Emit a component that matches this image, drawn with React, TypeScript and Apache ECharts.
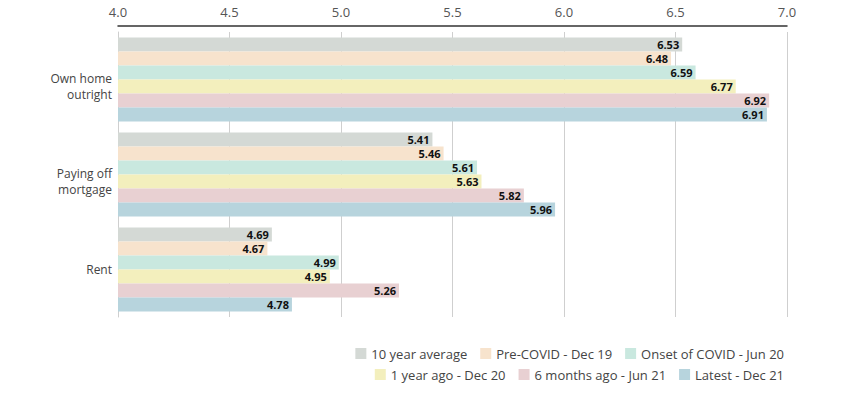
import React, { useEffect, useRef } from "react";
import * as echarts from "echarts";

const categories = ["Own home\noutright", "Paying off\nmortgage", "Rent"];
const seriesNames = [
  "10 year average",
  "Pre-COVID - Dec 19",
  "Onset of COVID - Jun 20",
  "1 year ago - Dec 20",
  "6 months ago - Jun 21",
  "Latest - Dec 21",
];
const tenYearAvg = [6.53, 5.41, 4.69];
const preCovid = [6.48, 5.46, 4.67];
const onsetCovid = [6.59, 5.61, 4.99];
const yearAgo = [6.77, 5.63, 4.95];
const sixMonthsAgo = [6.92, 5.82, 5.26];
const latest = [6.91, 5.96, 4.78];
const seriesValues = [tenYearAvg, preCovid, onsetCovid, yearAgo, sixMonthsAgo, latest];
const colors = ["#d4d9d5", "#f7e3cd", "#c9e8df", "#f3efbd", "#e8d0d2", "#b7d4dd"];

const FONT = "'Open Sans', 'Noto Sans', sans-serif";

export default function App() {
  const ref = useRef<HTMLDivElement>(null);
  useEffect(() => {
    if (!ref.current) return;
    const chart = echarts.init(ref.current, null, { renderer: "svg" });
    const legendStyle = {
      right: 77,
      orient: "horizontal" as const,
      itemWidth: 11,
      itemHeight: 11,
      itemGap: 13,
      icon: "rect",
      textStyle: { fontFamily: FONT, fontSize: 13, color: "#444" },
    };
    chart.setOption({
      animation: false,
      color: colors,
      textStyle: { fontFamily: FONT },
      legend: [
        { ...legendStyle, top: 342, data: seriesNames.slice(0, 3) },
        { ...legendStyle, top: 363, data: seriesNames.slice(3) },
      ],
      grid: { left: 118, right: 79, top: 32, bottom: 81, containLabel: false },
      xAxis: {
        type: "value",
        position: "top",
        offset: 6,
        min: 4,
        max: 7,
        interval: 0.5,
        axisLine: { show: true, lineStyle: { color: "#333", width: 1.5 } },
        axisTick: { show: false },
        axisLabel: {
          color: "#555",
          fontSize: 13,
          fontFamily: FONT,
          margin: 8,
          formatter: (v: number) => v.toFixed(1),
        },
        splitLine: { show: true, lineStyle: { color: "#cfcfcf", width: 1 } },
      },
      yAxis: {
        type: "category",
        inverse: true,
        data: categories.map((c) =>
          c.indexOf("\n") >= 0
            ? { value: c, textStyle: { verticalAlign: "top", lineHeight: 16, padding: [-9, 0, 0, 0] } }
            : c
        ),
        axisLine: { show: true, lineStyle: { color: "#cfcfcf", width: 1 } },
        axisTick: { show: false },
        axisLabel: {
          color: "#444",
          fontSize: 12,
          fontFamily: FONT,
          lineHeight: 16,
          margin: 6,
          align: "right",
        },
      },
      series: seriesNames.map((name, i) => ({
        name,
        type: "bar",
        data: seriesValues[i],
        barGap: "0%",
        barCategoryGap: "11.5%",
        label: {
          show: true,
          position: "insideRight",
          distance: 3,
          color: "#111",
          fontWeight: "bold",
          fontSize: 11,
          lineHeight: 12,
          fontFamily: FONT,
          formatter: (p: any) => p.value.toFixed(2),
        },
      })),
    });
    return () => chart.dispose();
  }, []);
  return <div ref={ref} style={{ width: 866, height: 398, position: "absolute", left: 0, top: 0 }} />;
}
